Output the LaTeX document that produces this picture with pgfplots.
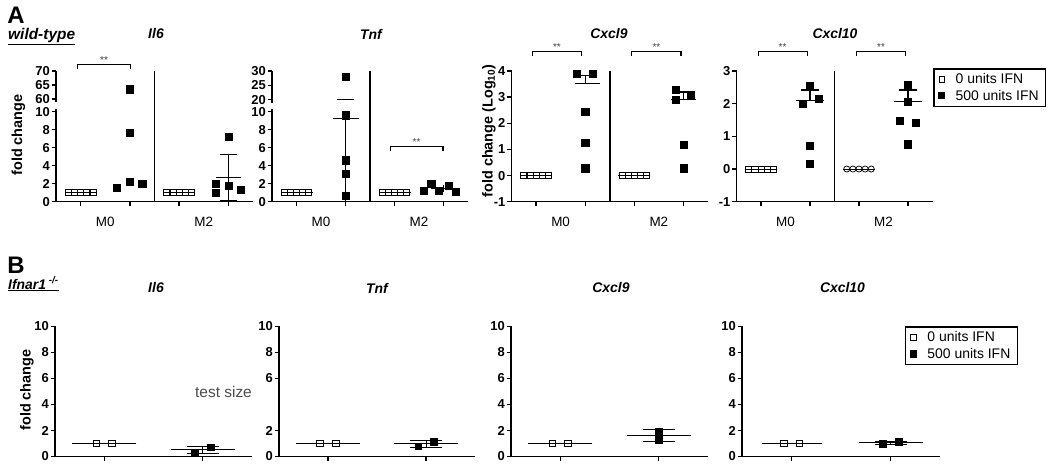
\documentclass[border=0pt]{standalone}
\usepackage{fontspec}
\setmainfont{Liberation Sans}
\usepackage{pgfplots}
\pgfplotsset{compat=1.18}

\newcommand\tickfont{\bfseries\fontsize{13}{13}\selectfont}
\newcommand\titlefont{\bfseries\itshape\fontsize{14}{14}\selectfont}
\newcommand\labfont{\bfseries\fontsize{14.5}{15}\selectfont}
\newcommand\catfont{\fontsize{13.5}{14}\selectfont}
\newcommand\starfont{\fontsize{10}{10}\selectfont}

\pgfplotsset{
  gp/.style={scale only axis, clip=false, axis lines=left,
    axis line style={-, line width=1.5bp, black},
    tick align=outside, major tick length=4.5bp,
    tick style={line width=1.3bp, black},
    xticklabels={,,},
    yticklabel style={font=\tickfont, inner sep=1.5bp},
    anchor=south west},
  Aax/.style={gp, height=130.7bp, xmin=0.5, xmax=4.5, xtick={1,2,3,4}},
  Bax/.style={gp, height=130bp, xmin=0.5, xmax=2.5, xtick={1,2}, ymin=0, ymax=10,
    ytick={0,2,4,6,8,10}, yticklabels={0,2,4,6,8,10}},
  leg/.style={legend cell align=left,
    legend style={draw=black, line width=1.3bp, font=\fontsize{14}{16}\selectfont,
      inner xsep=5bp, inner ysep=2.5bp, row sep=1bp,
      /tikz/every odd column/.append style={column sep=9bp}},
    legend image code/.code={\draw[mark repeat=2,mark phase=2,##1] plot coordinates {(0bp,0bp) (3bp,0bp) (6bp,0bp)};}},
}

% vertical error line, horizontal mean / cap line
\newcommand\vbar[4][1.3bp]{\addplot[no marks, line width=#1] coordinates {(#2,#3) (#2,#4)};}
\newcommand\hmark[4][1.3bp]{\addplot[only marks, mark=-, mark size=#4, mark options={line width=#1}] coordinates {(#2,#3)};}
\newcommand\bracket[4]{\draw[line width=1.1bp] ([yshift=-4.5bp]axis cs:#1,#3) -- (axis cs:#1,#3) -- (axis cs:#2,#3) -- ([yshift=-4.5bp]axis cs:#2,#3);
  \node[anchor=base, yshift=1.5bp, inner sep=0, font=\starfont, text=black!75] at (axis cs:#4,#3) {**};}

\begin{document}
\begin{tikzpicture}
\path[use as bounding box] (0,0) rectangle (1050bp,467bp);

% ================= A : Il6 (broken axis: 0-10, then 60-70 on upper segment) =================
\begin{axis}[Aax, at={(56bp,265.3bp)}, width=197bp, ymin=0, ymax=14.5,
  ytick={0,2,4,6,8,10,11.4,12.95,14.5}, yticklabels={0,2,4,6,8,10,60,65,70}]
\addplot[no marks, line width=1.5bp] coordinates {(2.5,0) (2.5,14.5)};
\draw[white, line width=4bp] (axis cs:0.5,10.3) -- (axis cs:0.5,11.1);
\addplot[only marks, mark=square, mark size=3.05bp, mark options={line width=0.75bp}] coordinates {
 (0.75,1) (0.875,1) (1,1) (1.125,1) (1.25,1) (2.75,1) (2.875,1) (3,1) (3.125,1) (3.25,1)};
\hmark[0.75bp]{1}{1}{16bp}
\hmark[0.75bp]{3}{1}{16bp}
\vbar{4}{0.08}{5.22}
\hmark{4}{2.65}{12.5bp}
\hmark{4}{5.22}{8.5bp}
\hmark{4}{0.08}{8.5bp}
% (2,12.49) is the value 63.5 on the upper segment
\addplot[only marks, mark=square*, mark size=3.6bp] coordinates {
 (1.74,1.56) (2,2.2) (2.25,1.96) (2,7.67) (2,12.49)
 (3.74,1.96) (3.74,1.04) (4,1.74) (4.25,1.3) (4,7.2)};
\bracket{0.93}{2.02}{15.19}{1.475}
\node[font=\catfont, yshift=-20bp] at (axis cs:1.5,0) {M0};
\node[font=\catfont, yshift=-20bp] at (axis cs:3.5,0) {M2};
\end{axis}

% ================= A : Tnf (broken axis: 0-10, then 20-30) =================
\begin{axis}[Aax, at={(272bp,265.3bp)}, width=196bp, ymin=0, ymax=14.5,
  ytick={0,2,4,6,8,10,11.3,12.9,14.5}, yticklabels={0,2,4,6,8,10,20,25,30}]
\addplot[no marks, line width=1.5bp] coordinates {(2.5,0) (2.5,14.5)};
\draw[white, line width=4bp] (axis cs:0.5,10.3) -- (axis cs:0.5,11.0);
\addplot[only marks, mark=square, mark size=3.05bp, mark options={line width=0.75bp}] coordinates {
 (0.75,1) (0.875,1) (1,1) (1.125,1) (1.25,1) (2.75,1) (2.875,1) (3,1) (3.125,1) (3.25,1)};
\hmark[0.75bp]{1}{1}{16bp}
\hmark[0.75bp]{3}{1}{16bp}
\vbar{2}{0}{9.2}
\hmark{2}{9.2}{13bp}
\hmark{2}{11.36}{8.5bp}
\vbar{4}{1.05}{1.87}
\hmark{4}{1.46}{12.5bp}
% (2,13.86) is the value 28 on the upper segment
\addplot[only marks, mark=square*, mark size=3.6bp] coordinates {
 (2,13.86) (2,9.6) (2,4.6) (2,3.15) (2,0.63)
 (3.6,1.19) (3.75,2.0) (3.9,1.19) (4.1,1.8) (4.25,1.1)};
\bracket{2.91}{3.99}{6.1}{3.45}
\node[font=\catfont, yshift=-20bp] at (axis cs:1.5,0) {M0};
\node[font=\catfont, yshift=-20bp] at (axis cs:3.5,0) {M2};
\end{axis}

% ================= A : Cxcl9 =================
\begin{axis}[Aax, at={(511.5bp,265.3bp)}, width=196.5bp, ymin=-1, ymax=4,
  ytick={-1,0,1,2,3,4}, yticklabels={-1,0,1,2,3,4}]
\addplot[no marks, line width=1.5bp] coordinates {(2.5,-1) (2.5,4)};
\addplot[only marks, mark=square, mark size=3.05bp, mark options={line width=0.75bp}] coordinates {
 (0.75,0) (0.875,0) (1,0) (1.125,0) (1.25,0) (2.75,0) (2.875,0) (3,0) (3.125,0) (3.25,0)};
\hmark[0.75bp]{1}{0}{16bp}
\hmark[0.75bp]{3}{0}{16bp}
\vbar{2}{3.51}{3.83}
\hmark{2.05}{3.51}{12.5bp}
\hmark{2}{3.83}{8.5bp}
\vbar{4}{2.9}{3.2}
\hmark{4}{2.9}{12.5bp}
\hmark{4}{3.2}{8.5bp}
\addplot[only marks, mark=square*, mark size=3.6bp] coordinates {
 (1.82,3.9) (2.15,3.9) (2,2.45) (2,1.27) (2,0.28)
 (3.85,3.27) (3.85,2.9) (4.14,3.08) (4,1.18) (4,0.28)};
\bracket{0.92}{1.93}{4.74}{1.425}
\bracket{2.95}{3.95}{4.74}{3.45}
\node[font=\catfont, yshift=-20bp] at (axis cs:1.5,-1) {M0};
\node[font=\catfont, yshift=-20bp] at (axis cs:3.5,-1) {M2};
\end{axis}

% ================= A : Cxcl10 =================
\begin{axis}[Aax, leg, at={(736.5bp,265.3bp)}, width=196bp, ymin=-1, ymax=3,
  ytick={-1,0,1,2,3}, yticklabels={-1,0,1,2,3},
  legend style={at={(1.004,1.02)}, anchor=north west}]
\addlegendimage{only marks, mark=square, mark size=2.7bp, mark options={line width=0.7bp}}
\addlegendentry{0 units IFN}
\addlegendimage{only marks, mark=square*, mark size=2.9bp}
\addlegendentry{500 units IFN}
\addplot[no marks, line width=1.5bp] coordinates {(2.5,-1) (2.5,3)};
\addplot[only marks, mark=square, mark size=3.05bp, mark options={line width=0.75bp}] coordinates {
 (0.75,0) (0.875,0) (1,0) (1.125,0) (1.25,0)};
\addplot[only marks, mark=o, mark size=3.05bp, mark options={line width=0.75bp}] coordinates {
 (2.75,0) (2.875,0) (3,0) (3.125,0) (3.25,0)};
\hmark[0.75bp]{1}{0}{16bp}
\hmark[0.75bp]{3}{0}{16bp}
\vbar{2}{2.1}{2.42}
\hmark{2}{2.1}{14bp}
\hmark{2}{2.42}{9bp}
\vbar{4}{2.06}{2.42}
\hmark{4}{2.06}{14bp}
\hmark{4}{2.42}{9bp}
\addplot[only marks, mark=square*, mark size=3.6bp] coordinates {
 (1.85,2.0) (2,2.56) (2.17,2.16) (2,0.72) (2,0.17)
 (4,2.57) (4,2.06) (3.83,1.49) (4.16,1.41) (4,0.76)};
\bracket{0.94}{1.94}{3.59}{1.44}
\bracket{2.95}{3.95}{3.59}{3.45}
\node[font=\catfont, yshift=-20bp] at (axis cs:1.5,-1) {M0};
\node[font=\catfont, yshift=-20bp] at (axis cs:3.5,-1) {M2};
\end{axis}

% ================= B : Il6 =================
\begin{axis}[Bax, at={(55bp,10.5bp)}, width=197bp]
\addplot[only marks, mark=square, mark size=3.4bp, mark options={line width=0.9bp}] coordinates {(0.92,1) (1.08,1)};
\hmark[1bp]{1}{1}{32bp}
\vbar[1bp]{2}{0.25}{0.79}
\hmark[1bp]{2}{0.52}{32bp}
\hmark[1bp]{2}{0.79}{16bp}
\hmark[1bp]{2}{0.25}{16bp}
\addplot[only marks, mark=square*, mark size=3.3bp] coordinates {(1.92,0.33) (2.08,0.72)};
\end{axis}

% ================= B : Tnf =================
\begin{axis}[Bax, at={(279bp,10.5bp)}, width=196bp, ytick={0,2,6,8,10}, yticklabels={0,2,6,8,10}]
\addplot[only marks, mark=square, mark size=3.4bp, mark options={line width=0.9bp}] coordinates {(0.92,1) (1.08,1)};
\hmark[1bp]{1}{1}{32bp}
\vbar[1bp]{2}{0.71}{1.23}
\hmark[1bp]{2}{0.97}{32bp}
\hmark[1bp]{2}{1.23}{16bp}
\hmark[1bp]{2}{0.71}{16bp}
\addplot[only marks, mark=square*, mark size=3.3bp] coordinates {(1.92,0.78) (2.08,1.15)};
\end{axis}

% ================= B : Cxcl9 =================
\begin{axis}[Bax, at={(511bp,10.5bp)}, width=197bp]
\addplot[only marks, mark=square, mark size=3.4bp, mark options={line width=0.9bp}] coordinates {(0.92,1) (1.08,1)};
\hmark[1bp]{1}{1}{32bp}
\vbar[1bp]{2}{1.16}{2.08}
\hmark[1bp]{2}{1.62}{32bp}
\hmark[1bp]{2}{2.08}{16bp}
\hmark[1bp]{2}{1.16}{16bp}
\addplot[only marks, mark=square*, mark size=3.3bp] coordinates {(2,1.3) (2,1.95)};
\end{axis}

% ================= B : Cxcl10 =================
\begin{axis}[Bax, leg, at={(742bp,10.5bp)}, width=198bp,
  legend style={at={(0.823,1.0)}, anchor=north west}]
\addlegendimage{only marks, mark=square, mark size=2.7bp, mark options={line width=0.7bp}}
\addlegendentry{0 units IFN}
\addlegendimage{only marks, mark=square*, mark size=2.9bp}
\addlegendentry{500 units IFN}
\addplot[only marks, mark=square, mark size=3.4bp, mark options={line width=0.9bp}] coordinates {(0.92,1) (1.08,1)};
\hmark[1bp]{1}{1}{30bp}
\vbar[1bp]{2}{0.93}{1.19}
\hmark[1bp]{2}{1.06}{32bp}
\hmark[1bp]{2}{1.19}{16bp}
\hmark[1bp]{2}{0.93}{16bp}
\addplot[only marks, mark=square*, mark size=3.3bp] coordinates {(1.92,0.97) (2.08,1.15)};
\end{axis}

% ================= texts =================
\node[inner sep=0, font=\bfseries\fontsize{24}{24}\selectfont] at (16bp,452bp) {A};
\node[anchor=west, inner sep=0, font=\bfseries\itshape\fontsize{15.5}{16}\selectfont] at (8bp,430bp) {\underline{wild-type}};
\node[font=\titlefont] at (156bp,433bp) {Il6};
\node[font=\titlefont] at (371bp,433bp) {Tnf};
\node[font=\titlefont] at (609bp,433bp) {Cxcl9};
\node[font=\titlefont] at (835bp,433bp) {Cxcl10};
\node[rotate=90, font=\labfont] at (18.5bp,332bp) {fold change};
\node[rotate=90, font=\labfont] at (489bp,336bp) {fold change (Log\textsubscript{10})};

\node[inner sep=0, font=\bfseries\fontsize{24}{24}\selectfont] at (16bp,202bp) {B};
\node[anchor=west, inner sep=0, font=\bfseries\itshape\fontsize{14}{15}\selectfont] at (8bp,183bp) {\underline{Ifnar1\textsuperscript{ -/-}}};
\node[font=\titlefont] at (156bp,179bp) {Il6};
\node[font=\titlefont] at (377bp,179bp) {Tnf};
\node[font=\titlefont] at (611bp,179bp) {Cxcl9};
\node[font=\titlefont] at (842.5bp,179bp) {Cxcl10};
\node[rotate=90, font=\labfont] at (27bp,77bp) {fold change};
\node[font=\fontsize{15.5}{16}\selectfont, text=black!70] at (223.5bp,75bp) {test size};
\end{tikzpicture}
\end{document}
